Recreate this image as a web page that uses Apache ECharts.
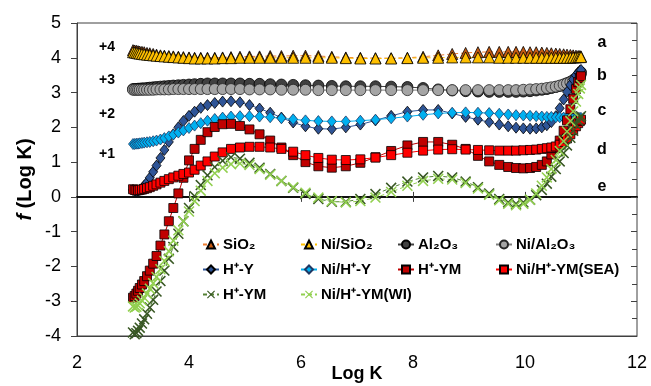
<!DOCTYPE html>
<html>
<head>
<meta charset="utf-8">
<script src="https://cdn.jsdelivr.net/npm/echarts@6/dist/echarts.min.js"></script>
<style>
  html, body { margin: 0; padding: 0; background: #fff; }
  #chart { width: 651px; height: 386px; }
</style>
</head>
<body>
<div id="chart"></div>
<script>
// pore-size grid (Log K), shared by every curve
const logK = [3.00, 3.03, 3.06, 3.09, 3.12, 3.16, 3.20, 3.25, 3.30, 3.36,
  3.42, 3.49, 3.56, 3.64, 3.72, 3.81, 3.90, 4.00, 4.10, 4.21,
  4.33, 4.46, 4.60, 4.75, 4.91, 5.08, 5.26, 5.45, 5.65, 5.86,
  6.08, 6.31, 6.55, 6.80, 7.06, 7.33, 7.61, 7.90, 8.18, 8.45,
  8.70, 8.94, 9.16, 9.36, 9.54, 9.70, 9.84, 9.97, 10.09, 10.20,
  10.30, 10.39, 10.47, 10.55, 10.62, 10.69, 10.75, 10.81, 10.86, 10.91,
  10.95, 10.98, 11.00]

// f(Log K), already shifted by +4 / +3 / +2 / +1 like the figure
const sio2 = [4.22, 4.21, 4.20, 4.19, 4.18, 4.17, 4.16, 4.14, 4.13, 4.11,
  4.09, 4.07, 4.06, 4.05, 4.04, 4.03, 4.02, 4.01, 4.00, 4.00,
  4.00, 4.00, 4.01, 4.02, 4.03, 4.04, 4.04, 4.05, 4.05, 4.06,
  4.06, 4.05, 4.03, 4.01, 4.00, 3.99, 3.99, 4.00, 4.03, 4.07,
  4.11, 4.14, 4.16, 4.17, 4.17, 4.17, 4.17, 4.17, 4.16, 4.16,
  4.15, 4.14, 4.13, 4.12, 4.11, 4.10, 4.09, 4.08, 4.07, 4.06,
  4.05, 4.05, 4.04]
const niSio2 = [4.16, 4.15, 4.14, 4.13, 4.12, 4.11, 4.10, 4.09, 4.08, 4.07,
  4.06, 4.05, 4.04, 4.03, 4.02, 4.01, 4.00, 3.99, 3.98, 3.98,
  3.98, 3.98, 3.99, 3.99, 4.00, 4.00, 4.00, 4.00, 4.00, 4.00,
  4.00, 4.00, 4.00, 3.99, 3.98, 3.98, 3.98, 3.99, 4.00, 4.00,
  4.01, 4.01, 4.01, 4.01, 4.00, 4.00, 4.00, 4.00, 4.00, 4.00,
  4.00, 4.00, 4.00, 4.00, 4.00, 4.00, 4.00, 4.00, 4.01, 4.01,
  4.02, 4.02, 4.02]
const al2o3 = [3.10, 3.10, 3.10, 3.11, 3.11, 3.12, 3.12, 3.13, 3.14, 3.15,
  3.16, 3.17, 3.18, 3.19, 3.20, 3.21, 3.22, 3.23, 3.24, 3.25,
  3.26, 3.26, 3.26, 3.26, 3.26, 3.25, 3.25, 3.24, 3.23, 3.22,
  3.21, 3.20, 3.19, 3.18, 3.18, 3.18, 3.17, 3.16, 3.13, 3.09,
  3.06, 3.04, 3.03, 3.02, 3.02, 3.02, 3.02, 3.03, 3.04, 3.06,
  3.08, 3.10, 3.13, 3.16, 3.19, 3.23, 3.27, 3.31, 3.36, 3.41,
  3.47, 3.53, 3.58]
const niAl2o3 = [3.08, 3.08, 3.08, 3.08, 3.08, 3.08, 3.08, 3.08, 3.08, 3.08,
  3.09, 3.09, 3.09, 3.09, 3.10, 3.10, 3.10, 3.10, 3.10, 3.10,
  3.10, 3.10, 3.10, 3.10, 3.10, 3.09, 3.09, 3.09, 3.08, 3.08,
  3.08, 3.07, 3.07, 3.07, 3.07, 3.07, 3.07, 3.07, 3.07, 3.07,
  3.07, 3.07, 3.07, 3.07, 3.07, 3.07, 3.07, 3.08, 3.09, 3.10,
  3.11, 3.13, 3.15, 3.17, 3.20, 3.23, 3.26, 3.30, 3.34, 3.39,
  3.44, 3.49, 3.54]
const hy = [0.20, 0.18, 0.17, 0.18, 0.20, 0.25, 0.32, 0.42, 0.55, 0.72,
  0.90, 1.12, 1.35, 1.58, 1.80, 2.00, 2.18, 2.33, 2.45, 2.56,
  2.64, 2.70, 2.74, 2.75, 2.72, 2.64, 2.54, 2.42, 2.28, 2.14,
  2.03, 1.96, 1.95, 2.00, 2.08, 2.20, 2.33, 2.45, 2.50, 2.50,
  2.40, 2.30, 2.22, 2.15, 2.08, 2.03, 1.99, 1.97, 1.96, 1.97,
  2.00, 2.06, 2.15, 2.32, 2.55, 2.80, 3.02, 3.22, 3.38, 3.50,
  3.58, 3.63, 3.65]
const niHy = [1.52, 1.52, 1.53, 1.53, 1.54, 1.55, 1.56, 1.57, 1.58, 1.60,
  1.62, 1.65, 1.69, 1.74, 1.79, 1.85, 1.91, 1.98, 2.05, 2.12,
  2.19, 2.24, 2.28, 2.31, 2.32, 2.32, 2.31, 2.29, 2.26, 2.23,
  2.20, 2.18, 2.17, 2.17, 2.19, 2.22, 2.26, 2.31, 2.36, 2.40,
  2.42, 2.43, 2.42, 2.41, 2.39, 2.37, 2.35, 2.34, 2.33, 2.32,
  2.31, 2.30, 2.30, 2.29, 2.29, 2.28, 2.28, 2.28, 2.27, 2.27,
  2.27, 2.27, 2.27]
const hymD = [-2.90, -2.85, -2.78, -2.70, -2.62, -2.52, -2.42, -2.28, -2.12, -1.92,
  -1.70, -1.40, -1.08, -0.70, -0.32, 0.10, 0.55, 1.05, 1.38, 1.64,
  1.86, 2.01, 2.09, 2.10, 2.04, 1.94, 1.80, 1.62, 1.42, 1.20,
  1.00, 0.88, 0.84, 0.88, 0.98, 1.14, 1.32, 1.48, 1.58, 1.58,
  1.50, 1.38, 1.18, 1.02, 0.92, 0.86, 0.83, 0.82, 0.83, 0.86,
  0.92, 1.02, 1.22, 1.40, 1.62, 1.90, 2.20, 2.52, 2.82, 3.10,
  3.30, 3.42, 3.47]
const niHymSea = [0.22, 0.20, 0.19, 0.19, 0.20, 0.21, 0.23, 0.25, 0.28, 0.32,
  0.36, 0.41, 0.46, 0.51, 0.56, 0.61, 0.66, 0.70, 0.78, 0.90,
  1.02, 1.16, 1.28, 1.38, 1.42, 1.44, 1.44, 1.42, 1.38, 1.30,
  1.20, 1.12, 1.07, 1.06, 1.08, 1.13, 1.20, 1.27, 1.33, 1.36,
  1.37, 1.36, 1.35, 1.34, 1.33, 1.33, 1.33, 1.34, 1.35, 1.36,
  1.38, 1.40, 1.42, 1.45, 1.50, 1.58, 1.68, 1.80, 1.92, 2.03,
  2.12, 2.18, 2.22]
const hymE = [-3.90, -3.95, -3.92, -3.85, -3.76, -3.64, -3.52, -3.36, -3.18, -2.96,
  -2.72, -2.42, -2.12, -1.78, -1.44, -1.06, -0.70, -0.32, 0.02, 0.34,
  0.62, 0.86, 1.04, 1.14, 1.10, 0.98, 0.84, 0.66, 0.46, 0.26,
  0.08, -0.06, -0.14, -0.14, -0.06, 0.08, 0.26, 0.44, 0.56, 0.60,
  0.56, 0.44, 0.28, 0.10, -0.06, -0.16, -0.20, -0.16, -0.08, 0.05,
  0.20, 0.38, 0.58, 0.80, 1.02, 1.26, 1.48, 1.70, 1.90, 2.08,
  2.20, 2.28, 2.32]
const niHymWi = [-3.15, -3.18, -3.16, -3.12, -3.06, -2.98, -2.90, -2.78, -2.64, -2.48,
  -2.30, -2.08, -1.84, -1.56, -1.26, -0.96, -0.70, -0.42, -0.12, 0.18,
  0.46, 0.68, 0.84, 0.94, 0.96, 0.92, 0.80, 0.64, 0.46, 0.28,
  0.12, -0.02, -0.12, -0.16, -0.12, -0.02, 0.14, 0.32, 0.46, 0.52,
  0.50, 0.40, 0.24, 0.06, -0.10, -0.20, -0.24, -0.20, -0.08, 0.10,
  0.32, 0.56, 0.80, 1.06, 1.32, 1.60, 1.88, 2.18, 2.46, 2.74,
  2.96, 3.12, 3.22]

const xTicks = [2, 4, 6, 8, 10, 12]
const offsetLabels = ['+4', '+3', '+2', '+1']
const curveLetters = ['a', 'b', 'c', 'd', 'e']

const FONT = "'Liberation Sans', Arial, Helvetica, sans-serif"
const CROSS = 'path://M0,2L2,0L10,8L18,0L20,2L12,10L20,18L18,20L10,12L2,20L0,18L8,10Z'

const pairs = vals => logK.map((x, i) => [x, vals[i]])

// 折线 + 标记
function curve (name, vals, symbol, size, fill, lineColor, dashed, border) {
  return {
    name,
    type: 'line',
    data: pairs(vals),
    symbol,
    symbolSize: size,
    showAllSymbol: true,
    lineStyle: { color: lineColor, width: 1, type: dashed ? [4, 3] : 'solid' },
    itemStyle: { color: fill, borderColor: border || fill, borderWidth: border ? 0.8 : 0 },
    emphasis: { disabled: true }
  }
}

const series = [
  curve('SiO2', sio2, 'triangle', 11, '#c55a11', '#ed7d31', true, '#000'),
  curve('Ni/SiO2', niSio2, 'triangle', 11, '#ffc000', '#ffc000', true, '#000'),
  curve('Al2O3', al2o3, 'circle', 11, '#404040', '#404040', false, '#000'),
  curve('Ni/Al2O3', niAl2o3, 'circle', 11, '#a5a5a5', '#7f7f7f', false, '#262626'),
  curve('H-Y', hy, 'diamond', [9, 11], '#2f5597', '#2f5597', false, '#000'),
  curve('Ni/H-Y', niHy, 'diamond', [9, 11], '#00b0f0', '#00b0f0', false, '#1f3864'),
  curve('H-YM d', hymD, 'rect', 9, '#c00000', '#c00000', false, '#000'),
  curve('Ni/H-YM(SEA)', niHymSea, 'rect', 9, '#ff0000', '#ff0000', false, '#000'),
  curve('H-YM e', hymE, CROSS, 11, '#385723', '#548235', true),
  curve('Ni/H-YM(WI)', niHymWi, CROSS, 11, '#92d050', '#92d050', true)
]

// legend: series name, text shown
const legendText = [
  ['SiO2', 'SiO₂'], ['Ni/SiO2', 'Ni/SiO₂'], ['Al2O3', 'Al₂O₃'], ['Ni/Al2O3', 'Ni/Al₂O₃'],
  ['H-Y', 'H⁺-Y'], ['Ni/H-Y', 'Ni/H⁺-Y'], ['H-YM d', 'H⁺-YM'], ['Ni/H-YM(SEA)', 'Ni/H⁺-YM(SEA)'],
  ['H-YM e', 'H⁺-YM'], ['Ni/H-YM(WI)', 'Ni/H⁺-YM(WI)']
]
const colLeft = [202, 300, 397, 495]
const rowTop = [237, 262, 287]

const legends = legendText.map(([name, text], i) => ({
  data: [name],
  formatter: () => text,
  left: colLeft[i % 4],
  top: rowTop[Math.floor(i / 4)],
  padding: 0,
  itemWidth: 16,
  itemHeight: 10,
  selectedMode: false,
  textStyle: { fontFamily: FONT, fontWeight: 'bold', fontSize: 15, color: '#000', padding: [0, 0, 0, -1] }
}))

const textEl = (text, x, y, size) => ({
  type: 'text', x, y, z: 100,
  style: { text, fill: '#000', font: `bold ${size}px ${FONT}`, align: 'center', verticalAlign: 'middle' }
})
const offsetY = [47, 80, 114, 154]
const letterY = [43, 76, 111, 150, 187]

const graphics = [
  ...offsetLabels.map((t, i) => textEl(t, 107, offsetY[i], 14)),
  ...curveLetters.map((t, i) => textEl(t, 602, letterY[i], 16))
]

const xBase = { type: 'value', min: 2, max: 12, interval: 2, splitLine: { show: false } }

const option = {
  animation: false,
  backgroundColor: '#fff',
  grid: {
    left: 77, right: 14, top: 23, bottom: 50,
    outerBoundsMode: 'none',
    show: true, borderColor: '#404040', borderWidth: 1
  },
  xAxis: [
    {
      ...xBase,
      name: 'Log K',
      nameLocation: 'middle',
      nameGap: 29,
      nameMoveOverlap: false,
      nameTextStyle: { fontFamily: FONT, fontSize: 18, fontWeight: 'bold', color: '#000' },
      axisLine: { onZero: false, lineStyle: { color: '#404040' } },
      axisTick: { show: false },
      axisLabel: { margin: 18, fontFamily: FONT, fontSize: 18, color: '#000' }
    },
    {
      ...xBase,
      axisLine: { onZero: true, lineStyle: { color: '#000', width: 1.5 } },
      axisTick: { inside: true, length: 5, customValues: xTicks.slice(1, 5), lineStyle: { color: '#404040' } },
      axisLabel: { show: false }
    },
    {
      ...xBase,
      axisLine: { onZero: true, lineStyle: { color: '#000', width: 1.5 } },
      axisTick: { inside: false, length: 5, customValues: xTicks.slice(1, 5), lineStyle: { color: '#404040' } },
      axisLabel: { show: false }
    }
  ],
  yAxis: [
    {
      type: 'value', min: -4, max: 5, interval: 1,
      name: '{i|f} (Log K)',
      nameLocation: 'middle',
      nameGap: 42,
      nameMoveOverlap: false,
      nameRotate: 90,
      nameTextStyle: {
        fontFamily: FONT, fontSize: 20, fontWeight: 'bold', color: '#000',
        rich: { i: { fontFamily: FONT, fontSize: 20, fontWeight: 'bold', fontStyle: 'italic', color: '#000' } }
      },
      splitLine: { show: false },
      axisLine: { show: true, lineStyle: { color: '#404040' } },
      axisTick: { show: true, inside: false, length: 6, lineStyle: { color: '#404040' } },
      axisLabel: { margin: 16, fontFamily: FONT, fontSize: 18, color: '#000' }
    },
    {
      type: 'value', min: -4, max: 5, interval: 1,
      splitLine: { show: false },
      axisLine: { show: false },
      axisTick: { show: true, inside: true, length: 6, lineStyle: { color: '#404040' } },
      minorTick: { show: true, splitNumber: 2, length: 5, lineStyle: { color: '#404040' } },
      axisLabel: { show: false }
    }
  ],
  legend: legends,
  graphic: graphics,
  series
}

const chart = echarts.init(document.getElementById('chart'))
chart.setOption(option)
window.addEventListener('resize', () => chart.resize())
</script>
</body>
</html>
